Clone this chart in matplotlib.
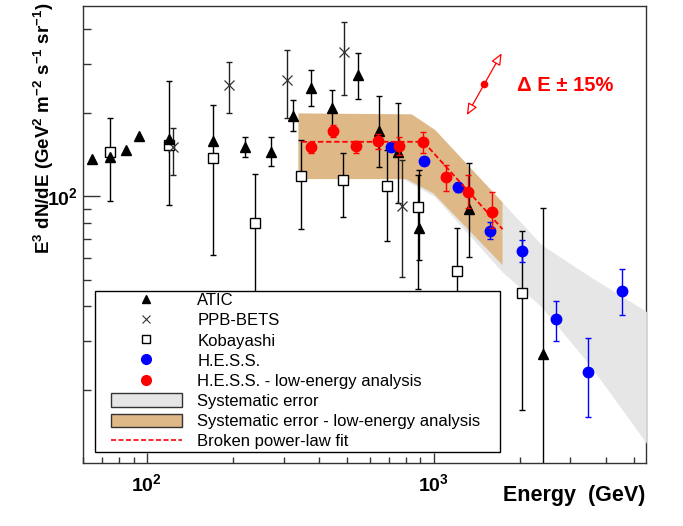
import matplotlib
matplotlib.use('Agg')
from matplotlib import pyplot as plt
from matplotlib.patches import Patch, Rectangle
from matplotlib.lines import Line2D
from matplotlib.ticker import FuncFormatter, NullFormatter
import numpy as np

plt.rcParams['font.family'] = ['Liberation Sans', 'DejaVu Sans']
plt.rcParams['mathtext.fontset'] = 'custom'
plt.rcParams['mathtext.rm'] = 'Liberation Sans'
plt.rcParams['mathtext.bf'] = 'Liberation Sans:bold'
plt.rcParams['mathtext.it'] = 'Liberation Sans:italic'

# ATIC (energy GeV, E^3 dN/dE, lower, upper)  - lo == hi means no error bar drawn
atic_E = [64.3, 74.5, 84.7, 94.2, 119.3, 169.9, 220.8, 272, 323, 373, 444, 546, 643, 751, 891, 1328, 2406]
atic_F = [136.4, 138.7, 146.6, 164.7, 160.2, 158.3, 150.7, 144.5, 195, 244.8, 208.4, 273.4, 172.1, 144.5, 76.9, 89.5, 26.9]
atic_lo = [136.4, 138.7, 146.6, 164.7, 160.2, 158.3, 138.7, 128.3, 171.7, 211.8, 175.9, 224, 126.9, 94.6, 58.7, 60.4, 5]
atic_hi = [136.4, 138.7, 146.6, 164.7, 160.2, 158.3, 163.7, 162.9, 222, 284.3, 242, 327.5, 230.2, 216, 124.1, 131.2, 90.7]

# PPB-BETS
ppb_E = [123.8, 193.7, 309.3, 489, 779]
ppb_F = [150.7, 252.3, 262.3, 331.8, 92.3]
ppb_lo = [118.8, 199.8, 191.8, 232, 51.1]
ppb_hi = [176.4, 303.9, 336.6, 425.8, 134.9]

# Kobayashi
kob_E = [74.5, 119.3, 169.9, 239.2, 344.5, 484, 687, 886, 1206, 2037]
kob_F = [144.1, 152.4, 137.1, 79.7, 118.4, 114.2, 109, 91.5, 53.8, 44.9]
kob_lo = [95.9, 93.0, 61.2, 30, 76.0, 84.2, 68.8, 46.4, 30, 16.9]
kob_hi = [191.7, 260.2, 213.1, 119.8, 159.3, 142.6, 146.6, 119, 76.8, 74.7]

# H.E.S.S.
hess_E = [711, 929, 1216, 1579, 2037, 2662, 3461, 4523]
hess_F = [149.9, 133.5, 108, 74.9, 63.3, 35.9, 23.3, 45.5]
hess_lo = [145, 129, 103.6, 69.9, 58.0, 29.9, 16.0, 37.3]
hess_hi = [155, 138, 111.7, 80.4, 69.4, 41.8, 30.8, 54.5]

# H.E.S.S. - low-energy analysis
le_E = [373, 447.6, 538, 642, 760, 917, 1104, 1320, 1597]
le_F = [150.7, 171.7, 151.5, 158.0, 151.9, 157, 117.4, 103.1, 87.8]
le_lo = [142.5, 163.8, 142.5, 148.2, 140.6, 143.3, 104.5, 90.5, 76.6]
le_hi = [157.1, 179.9, 157.9, 167.4, 162.9, 169.8, 129.7, 118.8, 103.6]

# broken power-law fit
fit_E = [347, 922, 1740]
fit_F = [157, 157, 76]

# systematic error band (H.E.S.S.)
sys_E = [684, 783, 1013, 1739, 2386, 3517, 5540]
sys_hi = [197.2, 197.2, 173.1, 94.9, 66.5, 51.1, 38.2]
sys_lo = [116.1, 115.2, 99.2, 53.2, 39.7, 24.5, 12.8]

# systematic error band (low-energy analysis)
le_sys_Eu = [338, 840, 1013, 1739]
le_sys_hi = [198.8, 197.2, 173.1, 94.9]
le_sys_El = [338, 804, 999, 1739]
le_sys_lo = [115.2, 115.2, 102.3, 56.4]

# energy scale arrow (+-15%)
shift_E = [1306, 1502, 1727]
shift_F = [196, 253, 327.5]

tan = '#deb887'
grey = '#e6e6e6'

fig = plt.figure(figsize=(6.83, 5.26), dpi=100)
ax = fig.add_axes([83/683, 63/526, 563/683, 457/526])
ax.set_xscale('log')
ax.set_yscale('log')
ax.set_xlim(60, 5500)
ax.set_ylim(10.9, 485)

# bands
ax.fill(np.r_[sys_E, sys_E[::-1]], np.r_[sys_hi, sys_lo[::-1]],
        fc=grey, ec='none', zorder=2.6, clip_on=False)
ax.fill(np.r_[le_sys_Eu, le_sys_El[::-1]], np.r_[le_sys_hi, le_sys_lo[::-1]],
        fc=tan, ec='none', zorder=2.7)


def bars(E, F, lo, hi, color, z):
    E, F, lo, hi = map(np.asarray, (E, F, lo, hi))
    m = hi > lo
    ax.errorbar(E[m], F[m], yerr=[F[m] - lo[m], hi[m] - F[m]], fmt='none',
                ecolor=color, elinewidth=1.0, capsize=2.5, capthick=1.0, zorder=z)


bars(kob_E, kob_F, kob_lo, kob_hi, 'black', 3.0)
bars(ppb_E, ppb_F, ppb_lo, ppb_hi, '#222222', 3.0)
bars(atic_E, atic_F, atic_lo, atic_hi, 'black', 3.0)
ax.plot(kob_E, kob_F, 's', ls='none', mfc='white', mec='black', ms=6.5, mew=1.0, zorder=3.2)
ax.plot(ppb_E, ppb_F, 'x', ls='none', color='#333333', ms=7, mew=0.9, zorder=3.2)
ax.plot(atic_E, atic_F, '^', ls='none', color='black', ms=7, zorder=3.3)

bars(hess_E, hess_F, hess_lo, hess_hi, 'blue', 4.0)
ax.plot(hess_E, hess_F, 'o', ls='none', color='blue', ms=7.5, zorder=4.1)

ax.plot(fit_E, fit_F, color='red', ls=(0, (3, 1.5)), lw=1.3, zorder=4.5)

bars(le_E, le_F, le_lo, le_hi, 'red', 5.0)
ax.plot(le_E, le_F, 'o', ls='none', color='red', ms=7.5, zorder=5.1)

# energy scale uncertainty
ax.annotate('', xy=(shift_E[2], shift_F[2]), xytext=(shift_E[0], shift_F[0]),
            arrowprops=dict(arrowstyle='<|-|>,head_length=0.7,head_width=0.3',
                            ec='red', fc='white', lw=0.9, shrinkA=0, shrinkB=0))
ax.plot(shift_E[1], shift_F[1], 'o', color='red', ms=4.5)
ax.text(1952, 249.6, 'Δ E ± 15%', color='red', fontsize=14.5, weight='bold',
        ha='left', va='center')

# axes format
for s in ax.spines.values():
    s.set_linewidth(1.0)
    s.set_color('#333333')
fmt = FuncFormatter(lambda v, p: r'$\mathbf{10^{%d}}$' % round(np.log10(v)))
ax.xaxis.set_major_formatter(fmt)
ax.yaxis.set_major_formatter(fmt)
ax.xaxis.set_minor_formatter(NullFormatter())
ax.yaxis.set_minor_formatter(NullFormatter())
ax.tick_params(axis='x', which='major', direction='in', length=7, width=1, pad=7.5, labelsize=14, color='#333333')
ax.tick_params(axis='x', which='minor', direction='in', length=4.5, width=1, color='#333333')
ax.tick_params(axis='y', which='major', direction='in', length=12, width=1, pad=4, labelsize=14, color='#333333')
ax.tick_params(axis='y', which='minor', direction='in', length=5.5, width=1, color='#333333')

fig.text(44/683, 1 - 128/526, r'$\mathbf{E^{3}\ dN/dE\ (GeV^{2}\ m^{-2}\ s^{-1}\ sr^{-1})}$',
         rotation=90, ha='center', va='center', fontsize=13.5)
fig.text(645/683, 1 - 496/526, 'Energy  (GeV)', ha='right', va='center', fontsize=15.5, weight='bold')

# legend
handles = [
    Line2D([], [], marker='^', ls='none', color='black', ms=5.5),
    Line2D([], [], marker='x', ls='none', color='#333333', ms=6, mew=0.8),
    Line2D([], [], marker='s', ls='none', mfc='white', mec='black', ms=5.5, mew=1),
    Line2D([], [], marker='o', ls='none', color='blue', ms=7),
    Line2D([], [], marker='o', ls='none', color='red', ms=7),
    Patch(fc=grey, ec='#333333', lw=1),
    Patch(fc=tan, ec='#333333', lw=1),
    Line2D([], [], color='red', ls=(0, (3, 1.5)), lw=1.2),
]
labels = ['ATIC', 'PPB-BETS', 'Kobayashi', 'H.E.S.S.', 'H.E.S.S. - low-energy analysis',
          'Systematic error', 'Systematic error - low-energy analysis', 'Broken power-law fit']
box = Rectangle((95/683, 1 - 452/526), 405/683, 161/526, transform=fig.transFigure,
                fc='white', ec='black', lw=1.0, zorder=6)
ax.add_patch(box)
leg = ax.legend(handles, labels, loc='upper left', bbox_to_anchor=(109.0/683, 1 - 291/526),
                bbox_transform=fig.transFigure, frameon=False, borderaxespad=0, borderpad=0.1,
                fontsize=12, handlelength=4.26, handleheight=0.88, handletextpad=0.94,
                labelspacing=0.275)
leg.set_zorder(7)

fig.savefig('out.png', dpi=100)
